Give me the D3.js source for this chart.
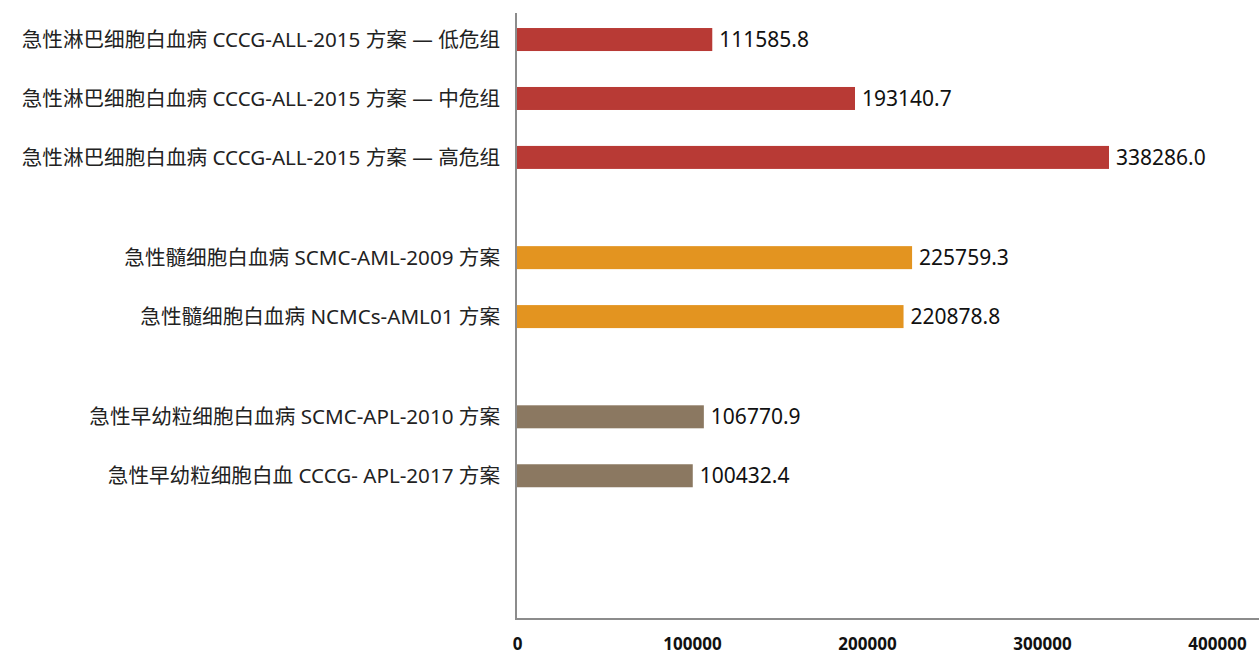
<!DOCTYPE html>
<html>
<head>
<meta charset="utf-8">
<script src="https://cdn.jsdelivr.net/npm/d3@7/dist/d3.min.js"></script>
<style>
  html, body { margin: 0; padding: 0; background: #ffffff; }
  svg { display: block; }
  .cat { font-family: "Noto Sans", "Noto Sans CJK SC", sans-serif; font-size: 20.6px; fill: #222; }
  .val { font-family: "Noto Sans", "Noto Sans CJK SC", sans-serif; font-size: 21px; fill: #111; }
  .tick text { font-family: "Noto Sans", sans-serif; font-weight: bold; font-size: 17px; fill: #111; }
</style>
</head>
<body>
<svg id="chart" width="1259" height="654"></svg>
<script>
// Treatment protocols (one bar each), their group and total cost
const categories = [
  "急性淋巴细胞白血病 CCCG-ALL-2015 方案 — 低危组",
  "急性淋巴细胞白血病 CCCG-ALL-2015 方案 — 中危组",
  "急性淋巴细胞白血病 CCCG-ALL-2015 方案 — 高危组",
  "急性髓细胞白血病 SCMC-AML-2009 方案",
  "急性髓细胞白血病 NCMCs-AML01 方案",
  "急性早幼粒细胞白血病 SCMC-APL-2010 方案",
  "急性早幼粒细胞白血 CCCG- APL-2017 方案"
];
const groups = ["ALL", "ALL", "ALL", "AML", "AML", "APL", "APL"];
const values = [111585.8, 193140.7, 338286.0, 225759.3, 220878.8, 106770.9, 100432.4];
const valueLabels = ["111585.8", "193140.7", "338286.0", "225759.3", "220878.8", "106770.9", "100432.4"];
const groupNames = ["ALL", "AML", "APL"];
const groupColors = ["#b83a35", "#e39420", "#8b7861"];
const tickValues = [0, 100000, 200000, 300000, 400000];

(function draw() {
  const svg = d3.select("#chart");
  const m = { left: 516, right: 1259, top: 13, bottom: 619 };
  const groupGap = 0.7;   // extra row units between groups

  // Row position: item index plus a gap after each group
  const rows = categories.map((c, i) => ({
    cat: c,
    value: values[i],
    label: valueLabels[i],
    group: groups[i],
    pos: i + groupNames.indexOf(groups[i]) * groupGap
  }));

  const x = d3.scaleLinear().domain([0, 400000]).range([m.left + 1, m.left + 701]);
  const y = d3.scaleLinear().domain([-0.45, 9.83]).range([m.top, m.bottom]);
  const color = d3.scaleOrdinal().domain(groupNames).range(groupColors);
  const barH = 23;

  // Bars
  svg.append("g").selectAll("rect")
    .data(rows)
    .join("rect")
    .attr("x", x(0))
    .attr("y", d => y(d.pos) - barH / 2)
    .attr("width", d => x(d.value) - x(0))
    .attr("height", barH)
    .attr("fill", d => color(d.group));

  // Value labels
  svg.append("g").selectAll("text")
    .data(rows)
    .join("text")
    .attr("class", "val")
    .attr("x", d => x(d.value) + 7)
    .attr("y", d => y(d.pos))
    .attr("dy", "0.36em")
    .text(d => d.label);

  // Category labels
  svg.append("g").selectAll("text")
    .data(rows)
    .join("text")
    .attr("class", "cat")
    .attr("x", 500)
    .attr("y", d => y(d.pos))
    .attr("dy", "0.36em")
    .attr("text-anchor", "end")
    .text(d => d.cat);

  // Axis frame lines
  svg.append("line")
    .attr("x1", m.left).attr("x2", m.left)
    .attr("y1", m.top).attr("y2", m.bottom + 1)
    .attr("stroke", "#8c8c8c").attr("stroke-width", 2);
  svg.append("line")
    .attr("x1", m.left - 1).attr("x2", m.right)
    .attr("y1", m.bottom).attr("y2", m.bottom)
    .attr("stroke", "#8c8c8c").attr("stroke-width", 2);

  // Bottom tick labels
  const xAxis = d3.axisBottom(x).tickValues(tickValues).tickFormat(d3.format("d")).tickSize(0).tickPadding(0);
  const axisG = svg.append("g").attr("transform", `translate(0, ${m.bottom + 19})`).call(xAxis);
  axisG.select(".domain").remove();
  axisG.selectAll(".tick text").attr("fill", "#111").attr("dy", "0.71em");
})();
</script>
</body>
</html>
